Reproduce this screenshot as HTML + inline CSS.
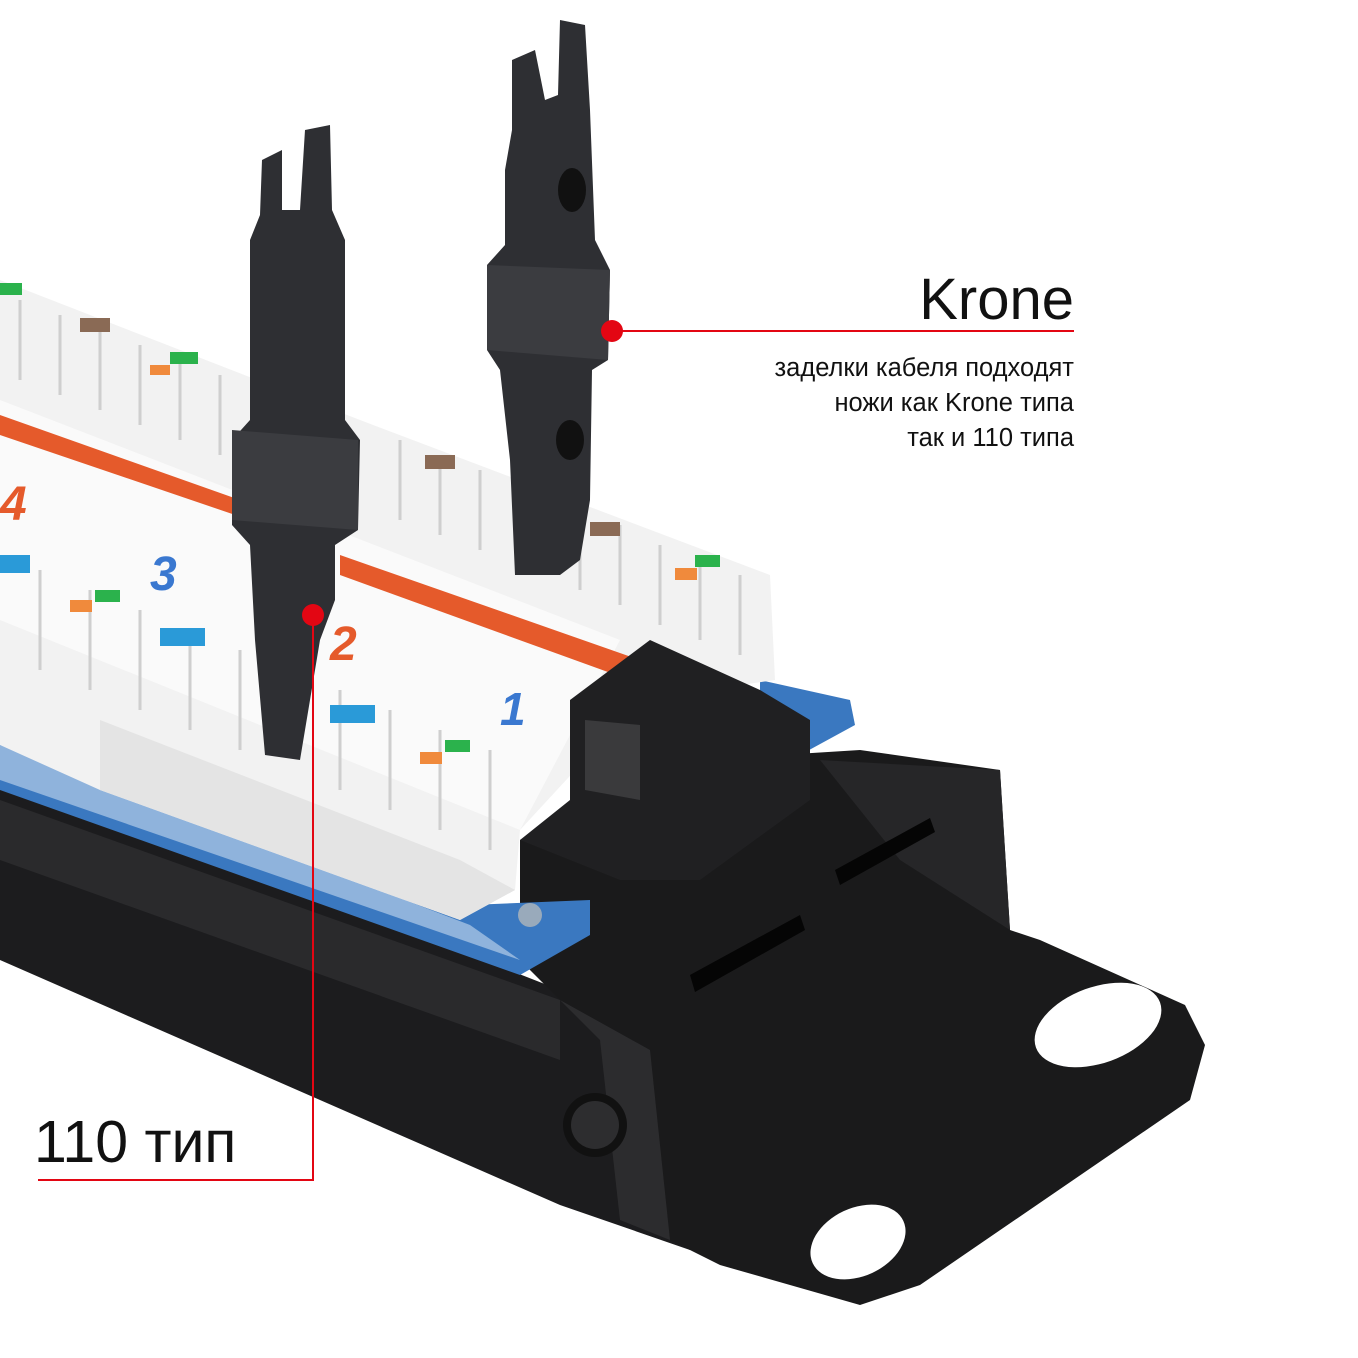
<!DOCTYPE html>
<html><head><meta charset="utf-8"><style>
html,body{margin:0;padding:0;background:#fff;}
svg{display:block;}
text{font-family:"Liberation Sans",DejaVu Sans,sans-serif;}
</style></head><body>
<svg width="1358" height="1358" viewBox="0 0 1358 1358" xmlns="http://www.w3.org/2000/svg">
<rect width="1358" height="1358" fill="#fff"/>
<polygon points="0,770 560,990 680,1030 690,1250 560,1205 0,960" fill="#1c1c1e"/>
<polygon points="0,800 560,1000 560,1060 0,860" fill="#2a2a2c"/>
<polygon points="520,840 700,760 860,750 1000,770 1010,930 1040,940 1185,1005 1205,1045 1190,1100 920,1285 860,1305 720,1265 670,1240 650,1050 560,1000 520,960" fill="#1a1a1b"/>
<polygon points="560,1000 650,1050 670,1240 620,1220 600,1040" fill="#2c2c2e"/>
<polygon points="820,760 1000,770 1010,930 900,860" fill="#262628"/>
<ellipse cx="1098" cy="1025" rx="66" ry="38" transform="rotate(-20 1098 1025)" fill="#fff"/>
<ellipse cx="858" cy="1242" rx="50" ry="34" transform="rotate(-25 858 1242)" fill="#fff"/>
<circle cx="595" cy="1125" r="32" fill="#111"/>
<circle cx="595" cy="1125" r="24" fill="#2d2d2f"/>
<polygon points="690,975 800,915 805,930 695,992" fill="#050505"/>
<polygon points="835,870 930,818 935,832 840,885" fill="#050505"/>
<polygon points="0,730 470,905 590,900 590,935 520,975 0,790" fill="#3a78c0"/>
<polygon points="0,745 470,925 520,960 0,780" fill="#8fb3dc"/>
<polygon points="760,680 850,700 855,725 800,755 760,730" fill="#3a78c0"/>
<circle cx="530" cy="915" r="12" fill="#9ab"/>
<polygon points="0,280 360,420 770,575 775,680 640,700 520,830 515,890 460,920 100,790 0,745" fill="#f2f2f2"/>
<polygon points="0,400 620,640 520,830 0,620" fill="#fafafa"/>
<polygon points="100,720 460,860 515,890 460,920 100,790" fill="#e4e4e4"/>
<g stroke="#cfcfcf" stroke-width="3">
<line x1="20" y1="300" x2="20" y2="380"/><line x1="60" y1="315" x2="60" y2="395"/><line x1="100" y1="330" x2="100" y2="410"/><line x1="140" y1="345" x2="140" y2="425"/><line x1="180" y1="360" x2="180" y2="440"/><line x1="220" y1="375" x2="220" y2="455"/>
<line x1="400" y1="440" x2="400" y2="520"/><line x1="440" y1="455" x2="440" y2="535"/><line x1="480" y1="470" x2="480" y2="550"/><line x1="580" y1="510" x2="580" y2="590"/><line x1="620" y1="525" x2="620" y2="605"/><line x1="660" y1="545" x2="660" y2="625"/><line x1="700" y1="560" x2="700" y2="640"/><line x1="740" y1="575" x2="740" y2="655"/>
<line x1="40" y1="570" x2="40" y2="670"/><line x1="90" y1="590" x2="90" y2="690"/><line x1="140" y1="610" x2="140" y2="710"/><line x1="190" y1="630" x2="190" y2="730"/><line x1="240" y1="650" x2="240" y2="750"/><line x1="340" y1="690" x2="340" y2="790"/><line x1="390" y1="710" x2="390" y2="810"/><line x1="440" y1="730" x2="440" y2="830"/><line x1="490" y1="750" x2="490" y2="850"/>
</g>
<g>
<rect x="0" y="283" width="22" height="12" fill="#2bb24c"/>
<rect x="80" y="318" width="30" height="14" fill="#8a6a55"/>
<rect x="170" y="352" width="28" height="12" fill="#2bb24c"/>
<rect x="150" y="365" width="20" height="10" fill="#f08a3c"/>
<rect x="425" y="455" width="30" height="14" fill="#8a6a55"/>
<rect x="590" y="522" width="30" height="14" fill="#8a6a55"/>
<rect x="695" y="555" width="25" height="12" fill="#2bb24c"/>
<rect x="675" y="568" width="22" height="12" fill="#f08a3c"/>
<rect x="0" y="555" width="30" height="18" fill="#2a9ad8"/>
<rect x="95" y="590" width="25" height="12" fill="#2bb24c"/>
<rect x="70" y="600" width="22" height="12" fill="#f08a3c"/>
<rect x="160" y="628" width="45" height="18" fill="#2a9ad8"/>
<rect x="330" y="705" width="45" height="18" fill="#2a9ad8"/>
<rect x="445" y="740" width="25" height="12" fill="#2bb24c"/>
<rect x="420" y="752" width="22" height="12" fill="#f08a3c"/>
</g>
<g font-weight="bold">
<polygon points="0,415 240,500 250,520 0,435" fill="#e55a2b"/>
<polygon points="340,555 640,660 630,680 340,575" fill="#e55a2b"/>
<text x="150" y="590" font-size="48" fill="#3a78d0" font-style="italic">3</text>
<text x="500" y="725" font-size="46" fill="#3a78d0" font-style="italic">1</text>
<text x="0" y="520" font-size="48" fill="#e55a2b" font-style="italic">4</text>
<text x="330" y="660" font-size="48" fill="#e55a2b" font-style="italic">2</text>
</g>
<polygon points="570,700 650,640 760,690 810,720 810,800 700,880 620,880 520,840 570,800" fill="#202022"/>
<polygon points="585,720 640,725 640,800 585,790" fill="#3a3a3c"/>
<polygon points="262,160 282,150 282,210 300,210 305,130 330,125 332,210 345,240 345,420 360,440 358,530 335,545 335,600 320,640 300,760 265,755 255,640 250,545 232,525 232,440 250,420 250,240 260,215" fill="#2e2f33"/>
<polygon points="232,430 358,440 358,530 232,520" fill="#3b3c40"/>
<polygon points="512,60 535,50 545,100 558,95 560,20 585,25 590,110 595,240 610,270 608,360 592,370 590,500 580,560 560,575 515,575 510,460 500,370 487,350 487,265 505,245 505,170 512,130" fill="#2e2f33"/>
<polygon points="487,265 610,270 608,360 487,350" fill="#3b3c40"/>
<ellipse cx="572" cy="190" rx="14" ry="22" fill="#111"/>
<ellipse cx="570" cy="440" rx="14" ry="20" fill="#111"/>
<line x1="612" y1="331" x2="1074" y2="331" stroke="#e30613" stroke-width="2"/>
<circle cx="612" cy="331" r="11" fill="#e30613"/>
<text x="1074" y="319" font-size="58" text-anchor="end" fill="#111">Krone</text>
<g font-size="25.5" text-anchor="end" fill="#111">
<text x="1074" y="376">заделки кабеля подходят</text>
<text x="1074" y="411">ножи как Krone типа</text>
<text x="1074" y="446">так и 110 типа</text>
</g>
<polyline points="313,615 313,1180 38,1180" fill="none" stroke="#e30613" stroke-width="2"/>
<circle cx="313" cy="615" r="11" fill="#e30613"/>
<text x="34" y="1162" font-size="59" fill="#111">110 тип</text>
</svg>
</body></html>
